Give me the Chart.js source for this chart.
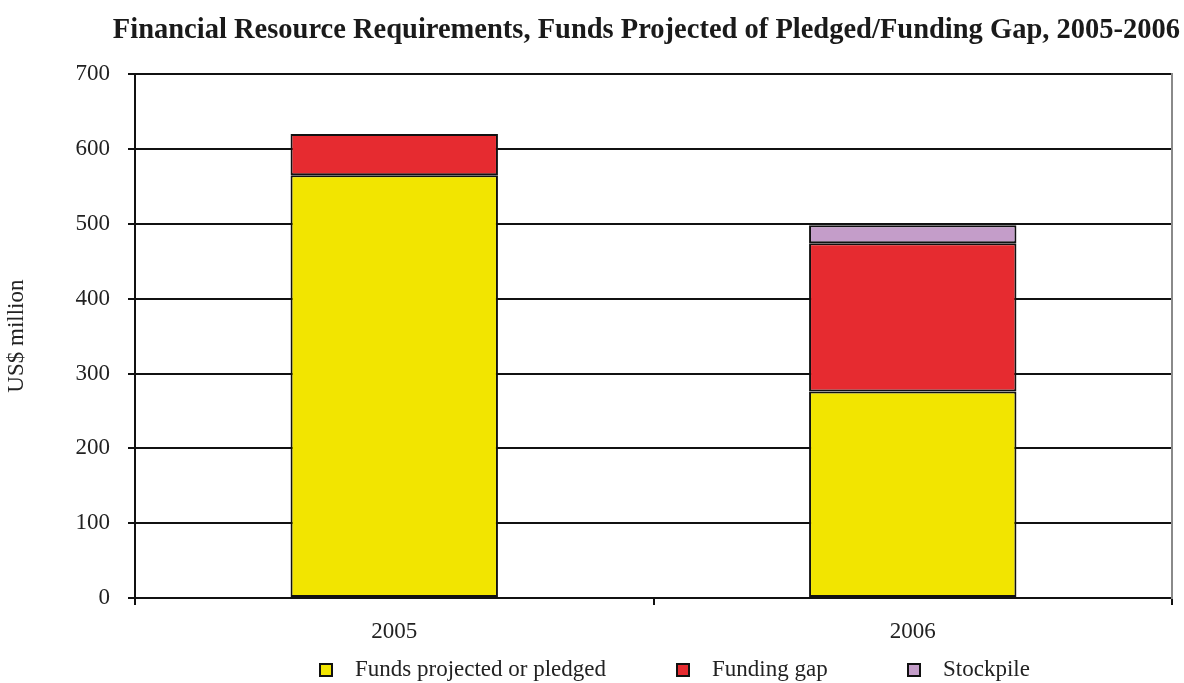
<!DOCTYPE html>
<html>
<head>
<meta charset="utf-8">
<script src="https://cdn.jsdelivr.net/npm/chart.js@4/dist/chart.umd.min.js"></script>
<style>
  html, body { margin: 0; padding: 0; background: #fff; }
  #wrap { width: 1184px; height: 683px; }
</style>
</head>
<body>
<div id="wrap"><canvas id="chart" width="1184" height="683"></canvas></div>
<script>
const years = ['2005', '2006'];
const fundsPledged = [565, 276];
const fundingGap = [55, 198];
const stockpile = [0, 24];
const yTicks = [0, 100, 200, 300, 400, 500, 600, 700];

const serif = "'Liberation Serif', 'DejaVu Serif', serif";

// bottom legend with the uneven spacing of the original
const spacedLegend = {
    id: 'spacedLegend',
    afterDraw(chart, args, opts) {
        const { ctx } = chart;
        ctx.save();
        ctx.font = '23px ' + serif;
        ctx.textBaseline = 'middle';
        chart.data.datasets.forEach((ds, i) => {
            const x = opts.boxX[i];
            const y = opts.y;
            ctx.fillStyle = ds.backgroundColor;
            ctx.fillRect(x, y - 6, 12, 12);
            ctx.strokeStyle = '#111';
            ctx.lineWidth = 2;
            ctx.strokeRect(x, y - 6, 12, 12);
            ctx.fillStyle = '#222';
            ctx.fillText(ds.label, x + opts.gap, y);
        });
        ctx.restore();
    }
};

const ctx = document.getElementById('chart').getContext('2d');
new Chart(ctx, {
    type: 'bar',
    data: {
        labels: years,
        datasets: [
            { label: 'Funds projected or pledged', data: fundsPledged, backgroundColor: '#F2E500' },
            { label: 'Funding gap', data: fundingGap, backgroundColor: '#E62B30' },
            { label: 'Stockpile', data: stockpile, backgroundColor: '#C49DC9' }
        ].map(ds => Object.assign(ds, {
            borderColor: '#111',
            borderWidth: 2,
            borderSkipped: false,
            barPercentage: 0.4,
            categoryPercentage: 1.0
        }))
    },
    options: {
        responsive: false,
        animation: false,
        layout: { padding: { left: 3, right: 4, top: 0, bottom: 38 } },
        scales: {
            x: {
                stacked: true,
                grid: { offset: true, drawOnChartArea: false, color: '#111', lineWidth: 2, tickLength: 7 },
                border: { color: '#111', width: 2 },
                ticks: { color: '#222', font: { family: serif, size: 23 }, padding: 13 },
                afterFit(scale) { scale.height = 47; }
            },
            y: {
                stacked: true,
                min: 0,
                max: 700,
                afterBuildTicks(scale) { scale.ticks = yTicks.map(v => ({ value: v })); },
                grid: { color: '#111', lineWidth: 2, tickLength: 7 },
                border: { color: '#111', width: 2 },
                ticks: { color: '#222', font: { family: serif, size: 23 }, padding: 18 },
                title: { display: true, text: 'US$ million', color: '#222', font: { family: serif, size: 23 }, padding: 0 },
                afterFit(scale) { scale.width = 132; }
            },
            y2: {
                position: 'right',
                display: true,
                grid: { drawOnChartArea: false, drawTicks: false },
                ticks: { display: false },
                border: { color: '#8a8a8a', width: 2 },
                afterFit(scale) { scale.width = 8; }
            }
        },
        plugins: {
            title: {
                display: true,
                text: 'Financial Resource Requirements, Funds Projected of Pledged/Funding Gap, 2005-2006',
                color: '#1a1a1a',
                font: { family: serif, size: 28.5, weight: 'bold' },
                padding: { top: 14, bottom: 26 },
                align: 'end'
            },
            legend: { display: false },
            spacedLegend: { boxX: [320, 677, 908], gap: 35, y: 670 },
            tooltip: { enabled: false }
        }
    },
    plugins: [spacedLegend]
});
</script>
</body>
</html>
